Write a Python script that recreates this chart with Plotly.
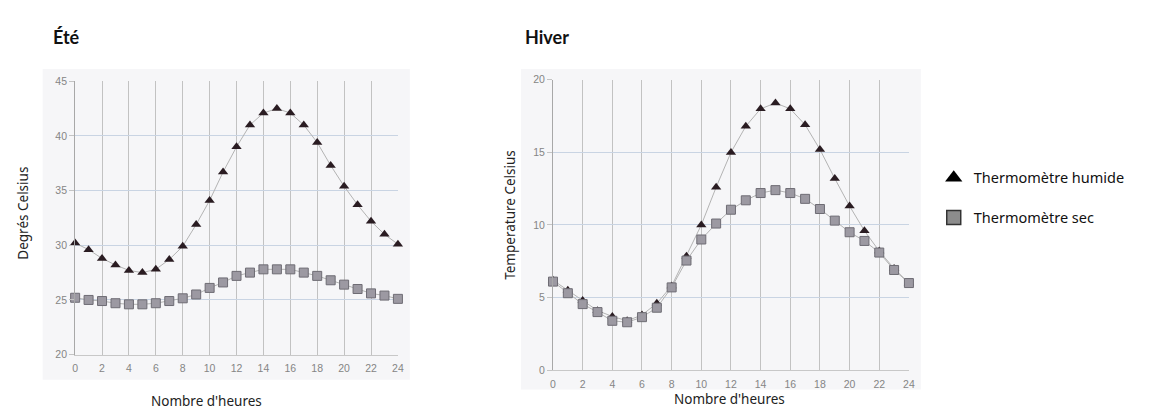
import plotly.graph_objects as go

# ---- data ----
hours = list(range(0, 25))
summer_wet = [30.2, 29.6, 28.8, 28.2, 27.7, 27.5, 27.8, 28.7, 29.9, 31.9, 34.1, 36.7, 39.0,
              41.0, 42.1, 42.5, 42.1, 41.0, 39.4, 37.3, 35.4, 33.7, 32.2, 31.0, 30.1]
summer_dry = [25.2, 25.0, 24.9, 24.7, 24.6, 24.6, 24.7, 24.9, 25.15, 25.5, 26.1, 26.6, 27.2,
              27.5, 27.8, 27.8, 27.8, 27.5, 27.2, 26.8, 26.4, 26.0, 25.6, 25.4, 25.1]
winter_wet = [6.2, 5.5, 4.8, 4.1, 3.7, 3.4, 3.8, 4.6, 5.8, 7.85, 10.0, 12.6, 15.0,
              16.8, 18.0, 18.4, 18.0, 16.9, 15.2, 13.2, 11.3, 9.6, 8.2, 7.0, 6.0]
winter_dry = [6.1, 5.3, 4.55, 4.0, 3.4, 3.3, 3.65, 4.3, 5.7, 7.55, 9.0, 10.1, 11.05,
              11.7, 12.2, 12.4, 12.2, 11.8, 11.1, 10.3, 9.5, 8.9, 8.1, 6.9, 6.0]
x_ticks = list(range(0, 25, 2))
summer_yticks = [20, 25, 30, 35, 40, 45]
winter_yticks = [0, 5, 10, 15, 20]
panel_titles = ["Été", "Hiver"]
y_titles = ["Degrés Celsius", "Temperature Celsius"]
x_title = "Nombre d'heures"
legend_names = ["Thermomètre humide", "Thermomètre sec"]

W, H = 1161, 415
def px(x):
    return x / W
def py(y):
    return 1 - y / H

WET_COLOR = "#2a1c22"
DRY_COLOR = "#9c99a2"
DRY_EDGE = "#6e6c74"
LINE_COLOR = "#b3b3b3"
FONT = "Lato"
TXT = "Noto Sans"

fig = go.Figure()

def add_series(xa, ya, wet, dry):
    fig.add_trace(go.Scatter(x=hours, y=wet, mode="lines+markers", xaxis=xa, yaxis=ya,
                             line=dict(color=LINE_COLOR, width=1),
                             marker=dict(symbol="triangle-up", size=9, color=WET_COLOR),
                             showlegend=False, cliponaxis=False))
    fig.add_trace(go.Scatter(x=hours, y=dry, mode="lines+markers", xaxis=xa, yaxis=ya,
                             line=dict(color=LINE_COLOR, width=1),
                             marker=dict(symbol="square", size=9, color=DRY_COLOR,
                                         line=dict(color=DRY_EDGE, width=1)),
                             showlegend=False, cliponaxis=False))

add_series("x", "y", summer_wet, summer_dry)
add_series("x2", "y2", winter_wet, winter_dry)

# legend-only traces
fig.add_trace(go.Scatter(x=[None], y=[None], mode="markers", name=legend_names[0],
                         marker=dict(symbol="triangle-up", size=15, color="#000000"),
                         legend="legend"))
fig.add_trace(go.Scatter(x=[None], y=[None], mode="markers", name=legend_names[1],
                         marker=dict(symbol="square", size=14, color="#8c8c8c",
                                     line=dict(color="#333333", width=1.5)),
                         legend="legend2"))

xaxis_common = dict(range=[0, 24], tickvals=x_ticks, showgrid=True, gridcolor="#c2c2c2",
                    gridwidth=1, zeroline=False, showline=True, linecolor="#c8c8c8",
                    ticks="", tickfont=dict(family="Liberation Sans", size=10.5, color="#858585"),
                    fixedrange=True, ticklabelstandoff=4)
yaxis_common = dict(showgrid=True, gridcolor="#c9d4e3", gridwidth=1.3, zeroline=False,
                    showline=True, linecolor="#a8a8a8", ticks="outside", ticklen=5,
                    tickcolor="#c4c4c4",
                    tickfont=dict(family="Liberation Sans", size=10.5, color="#858585"),
                    fixedrange=True, mirror=False)

fig.update_layout(
    width=W, height=H,
    margin=dict(l=0, r=0, t=0, b=0),
    paper_bgcolor="white",
    plot_bgcolor="#fbfbfd",
    xaxis=dict(domain=[px(72.7), px(398)], anchor="y", **xaxis_common),
    yaxis=dict(domain=[py(359), py(77.5)], anchor="x", range=[20, 45],
               tickvals=summer_yticks, **yaxis_common),
    xaxis2=dict(domain=[px(554.3), px(913)], anchor="y2", **xaxis_common),
    yaxis2=dict(domain=[py(375), py(76)], anchor="x2", range=[0, 20],
                tickvals=winter_yticks, **yaxis_common),
    legend=dict(x=px(938), y=py(177), xanchor="left", yanchor="middle",
                font=dict(family=TXT, size=14.5, color="#111111"),
                bgcolor="rgba(0,0,0,0)", itemwidth=30),
    legend2=dict(x=px(938), y=py(218), xanchor="left", yanchor="middle",
                 font=dict(family=TXT, size=14.5, color="#111111"),
                 bgcolor="rgba(0,0,0,0)", itemwidth=30),
    shapes=[
        dict(type="rect", xref="paper", yref="paper", x0=px(40), x1=px(410),
             y0=py(385), y1=py(65), fillcolor="#f6f6f8", line=dict(width=0), layer="below"),
        dict(type="rect", xref="paper", yref="paper", x0=px(522), x1=px(925),
             y0=py(395), y1=py(65), fillcolor="#f6f6f8", line=dict(width=0), layer="below"),
    ],
    annotations=[
        dict(text="<b>" + panel_titles[0] + "</b>", x=px(48), y=py(32), xref="paper", yref="paper",
             xanchor="left", yanchor="middle", showarrow=False,
             font=dict(family=FONT, size=18, color="#111111")),
        dict(text="<b>" + panel_titles[1] + "</b>", x=px(524), y=py(32), xref="paper", yref="paper",
             xanchor="left", yanchor="middle", showarrow=False,
             font=dict(family=FONT, size=18, color="#111111")),
        dict(text=y_titles[0], x=px(20), y=py(213), xref="paper", yref="paper",
             textangle=-90, showarrow=False, xanchor="center", yanchor="middle",
             font=dict(family=TXT, size=13.5, color="#222222")),
        dict(text=y_titles[1], x=px(511), y=py(215), xref="paper", yref="paper",
             textangle=-90, showarrow=False, xanchor="center", yanchor="middle",
             font=dict(family=TXT, size=13.5, color="#222222")),
        dict(text=x_title, x=px(205), y=py(406.5), xref="paper", yref="paper",
             showarrow=False, xanchor="center", yanchor="middle",
             font=dict(family=TXT, size=13.5, color="#222222")),
        dict(text=x_title, x=px(732), y=py(405), xref="paper", yref="paper",
             showarrow=False, xanchor="center", yanchor="middle",
             font=dict(family=TXT, size=13.5, color="#222222")),
    ],
)

fig.write_html("out.html", config={"displayModeBar": False},
               post_script="document.body.style.margin='0px';document.body.style.overflow='hidden';")
